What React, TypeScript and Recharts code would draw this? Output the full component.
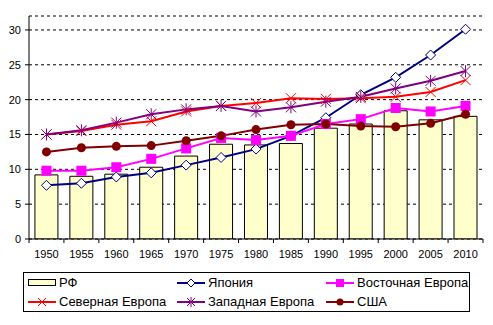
import { Bar, CartesianGrid, ComposedChart, Line, XAxis, YAxis } from "recharts";

const years = ["1950", "1955", "1960", "1965", "1970", "1975", "1980", "1985", "1990", "1995", "2000", "2005", "2010"];
const rf = [9.2, 9.0, 9.3, 10.3, 11.9, 13.6, 13.5, 13.7, 15.9, 16.5, 18.4, 17.1, 17.6];
const japan = [7.7, 8.0, 8.9, 9.5, 10.6, 11.7, 12.9, 14.8, 17.4, 20.7, 23.2, 26.4, 30.1];
const eastEurope = [9.8, 9.8, 10.3, 11.5, 13.0, 14.5, 14.2, 14.8, 16.5, 17.2, 18.8, 18.3, 19.1];
const northEurope = [15.0, 15.5, 16.4, 16.9, 18.3, 19.1, 19.5, 20.2, 20.1, 20.2, 20.4, 21.1, 22.8];
const westEurope = [15.0, 15.6, 16.7, 17.9, 18.6, 19.1, 18.3, 18.9, 19.7, 20.4, 21.6, 22.7, 24.1];
const usa = [12.5, 13.1, 13.3, 13.4, 14.1, 14.8, 15.7, 16.4, 16.5, 16.2, 16.1, 16.6, 17.9];
const yTicks = [0, 5, 10, 15, 20, 25, 30];

const data = years.map((year, i) => ({
  year,
  rf: rf[i],
  japan: japan[i],
  east: eastEurope[i],
  north: northEurope[i],
  west: westEurope[i],
  usa: usa[i],
}));

const FONT = "Arial, 'Liberation Sans', sans-serif";

// marker shapes, Excel style
const diamond = (p: any) => (
  <path
    key={p.key}
    d={`M${p.cx},${p.cy - 5}L${p.cx + 5},${p.cy}L${p.cx},${p.cy + 5}L${p.cx - 5},${p.cy}Z`}
    fill="#fff"
    stroke="#000080"
    strokeWidth={1}
  />
);
const square = (p: any) => <rect key={p.key} x={p.cx - 5} y={p.cy - 5} width={10} height={10} fill="#ff00ff" />;
const cross = (p: any) => (
  <path
    key={p.key}
    d={`M${p.cx - 5},${p.cy - 5}L${p.cx + 5},${p.cy + 5}M${p.cx + 5},${p.cy - 5}L${p.cx - 5},${p.cy + 5}`}
    stroke="#ff0000"
    strokeWidth={1}
  />
);
const star = (p: any) => (
  <path
    key={p.key}
    d={`M${p.cx - 5},${p.cy - 5}L${p.cx + 5},${p.cy + 5}M${p.cx + 5},${p.cy - 5}L${p.cx - 5},${p.cy + 5}M${p.cx},${p.cy - 6}L${p.cx},${p.cy + 6}`}
    stroke="#800080"
    strokeWidth={1}
  />
);
const circle = (p: any) => <circle key={p.key} cx={p.cx} cy={p.cy} r={4.5} fill="#800000" />;

function YearTick(props: any) {
  const { x, y, payload, index, visibleTicksCount } = props;
  const half = payload.offset ?? 17.5;
  return (
    <g>
      <line x1={x - half} x2={x - half} y1={y} y2={y + 4} stroke="#000" />
      {index === visibleTicksCount - 1 && <line x1={x + half} x2={x + half} y1={y} y2={y + 4} stroke="#000" />}
      <text x={x} y={y + 19} textAnchor="middle" fontSize={11} fontFamily={FONT} fill="#000">
        {payload.value}
      </text>
    </g>
  );
}

const legendItems = [
  { name: "РФ", icon: "bar" },
  { name: "Япония", icon: "diamond" },
  { name: "Восточная Европа", icon: "square" },
  { name: "Северная Европа", icon: "cross" },
  { name: "Западная Европа", icon: "star" },
  { name: "США", icon: "circle" },
];

function LegendIcon({ type }: { type: string }) {
  const c = 14;
  const y = 9;
  if (type === "bar")
    return (
      <svg width={28} height={18}>
        <rect x={0.5} y={5.5} width={27} height={6} fill="#ffffcc" stroke="#000" />
      </svg>
    );
  const colors: Record<string, string> = {
    diamond: "#000080",
    square: "#ff00ff",
    cross: "#ff0000",
    star: "#800080",
    circle: "#800000",
  };
  const col = colors[type];
  return (
    <svg width={28} height={18}>
      <line x1={0} x2={28} y1={y} y2={y} stroke={col} strokeWidth={2} />
      {type === "diamond" && <path d={`M${c},${y - 4}L${c + 4},${y}L${c},${y + 4}L${c - 4},${y}Z`} fill="#fff" stroke={col} />}
      {type === "square" && <rect x={c - 4} y={y - 4} width={8} height={8} fill={col} />}
      {type === "cross" && <path d={`M${c - 4},${y - 4}L${c + 4},${y + 4}M${c + 4},${y - 4}L${c - 4},${y + 4}`} stroke={col} />}
      {type === "star" && (
        <path d={`M${c - 4},${y - 4}L${c + 4},${y + 4}M${c + 4},${y - 4}L${c - 4},${y + 4}M${c},${y - 5}L${c},${y + 5}`} stroke={col} />
      )}
      {type === "circle" && <circle cx={c} cy={y} r={3.5} fill={col} />}
    </svg>
  );
}

export default function App() {
  return (
    <div style={{ position: "absolute", left: 0, top: 0, width: 493, height: 325, background: "#fff" }}>
      <ComposedChart
        width={493}
        height={325}
        data={data}
        margin={{ top: 16, right: 10, left: 0, bottom: 66 }}
        barCategoryGap="17%"
      >
        <CartesianGrid vertical={false} stroke="#000" strokeDasharray="3 3" />
        <XAxis
          dataKey="year"
          tickLine={false}
          tickSize={0}
          tickMargin={0}
          height={20}
          axisLine={{ stroke: "#000" }}
          tick={<YearTick />}
          interval={0}
        />
        <XAxis xAxisId="top" dataKey="year" orientation="top" height={0} tick={false} tickLine={false} axisLine={{ stroke: "#000" }} />
        <YAxis
          domain={[0, 32]}
          ticks={yTicks}
          width={29}
          tickSize={4}
          tickMargin={4}
          axisLine={{ stroke: "#000" }}
          tickLine={{ stroke: "#000" }}
          tick={{ fill: "#000", fontSize: 11, fontFamily: FONT }}
          allowDataOverflow
        />
        <YAxis yAxisId="right" orientation="right" width={0} tick={false} tickLine={false} axisLine={{ stroke: "#000" }} />
        <Bar dataKey="rf" fill="#ffffcc" stroke="#000" strokeWidth={1} isAnimationActive={false} />
        <Line dataKey="japan" stroke="#000080" strokeWidth={2} dot={diamond} isAnimationActive={false} />
        <Line dataKey="east" stroke="#ff00ff" strokeWidth={2} dot={square} isAnimationActive={false} />
        <Line dataKey="north" stroke="#ff0000" strokeWidth={2} dot={cross} isAnimationActive={false} />
        <Line dataKey="west" stroke="#800080" strokeWidth={2} dot={star} isAnimationActive={false} />
        <Line dataKey="usa" stroke="#800000" strokeWidth={2} dot={circle} isAnimationActive={false} />
      </ComposedChart>
      <div
        style={{
          position: "absolute",
          left: 23,
          top: 272,
          width: 447,
          height: 40,
          boxSizing: "border-box",
          border: "1px solid #000",
          paddingLeft: 4,
          display: "grid",
          gridTemplateColumns: "149px 149px 143px",
          gridAutoRows: 19,
          fontFamily: FONT,
          fontSize: 13,
        }}
      >
        {legendItems.map((it) => (
          <div key={it.name} style={{ height: 19, display: "flex", alignItems: "center", gap: 3, whiteSpace: "nowrap" }}>
            <LegendIcon type={it.icon} />
            <span>{it.name}</span>
          </div>
        ))}
      </div>
    </div>
  );
}
